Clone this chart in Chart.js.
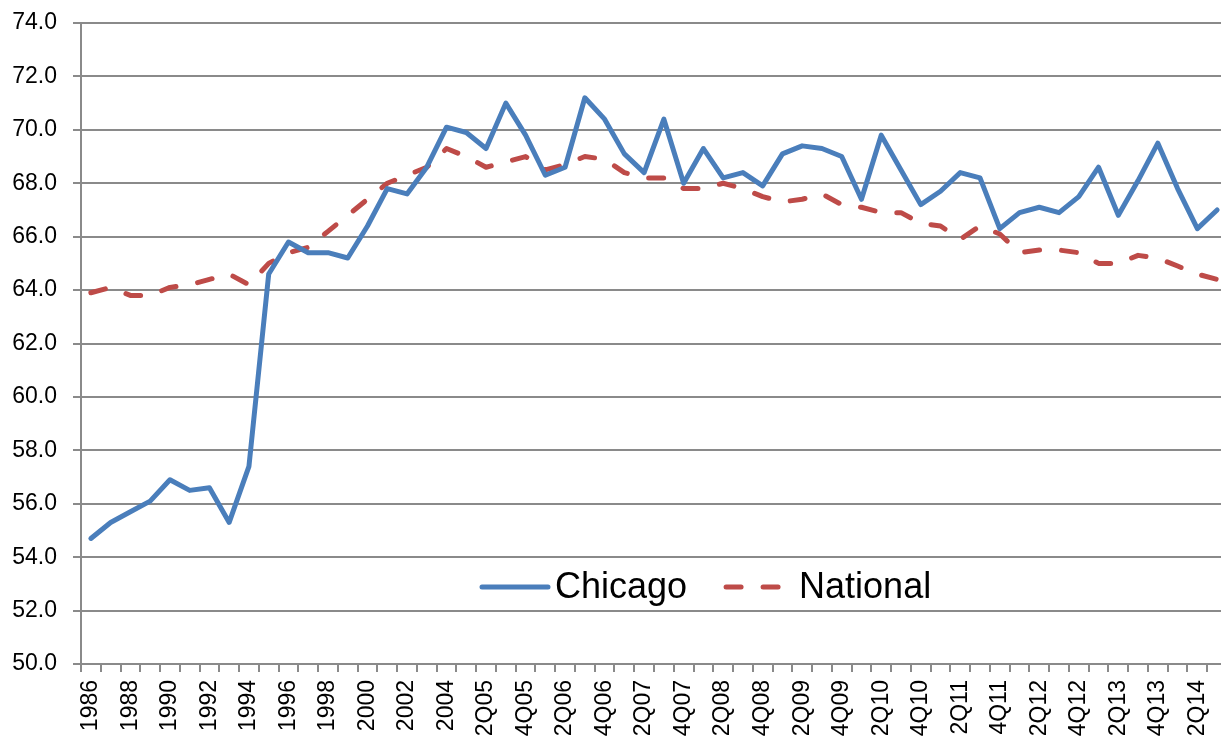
<!DOCTYPE html>
<html>
<head>
<meta charset="utf-8">
<script src="https://cdn.jsdelivr.net/npm/chart.js@4"></script>
<style>
  html, body { margin: 0; padding: 0; background: #fff; overflow: hidden; }
  #wrap { width: 1221px; height: 738px; overflow: hidden; }
</style>
</head>
<body>
<div id="wrap"><canvas id="chart" width="1227" height="738"></canvas></div>
<script>
// categories: yearly to 2004, then quarterly
var years = ["1986", "1987", "1988", "1989", "1990", "1991", "1992", "1993", "1994", "1995",
  "1996", "1997", "1998", "1999", "2000", "2001", "2002", "2003", "2004"];
var quarters = [
  "1Q05", "2Q05", "3Q05", "4Q05", "1Q06", "2Q06", "3Q06", "4Q06",
  "1Q07", "2Q07", "3Q07", "4Q07", "1Q08", "2Q08", "3Q08", "4Q08",
  "1Q09", "2Q09", "3Q09", "4Q09", "1Q10", "2Q10", "3Q10", "4Q10",
  "1Q11", "2Q11", "3Q11", "4Q11", "1Q12", "2Q12", "3Q12", "4Q12",
  "1Q13", "2Q13", "3Q13", "4Q13", "1Q14", "2Q14", "3Q14"];
var labels = years.concat(quarters);

var chicago = [54.7, 55.3, 55.7, 56.1, 56.9, 56.5, 56.6, 55.3, 57.4, 64.6,
  65.8, 65.4, 65.4, 65.2, 66.4, 67.8, 67.6, 68.6, 70.1,
  69.9, 69.3, 71.0, 69.8, 68.3, 68.6, 71.2, 70.4,
  69.1, 68.4, 70.4, 68.0, 69.3, 68.2, 68.4, 67.9,
  69.1, 69.4, 69.3, 69.0, 67.4, 69.8, 68.5, 67.2,
  67.7, 68.4, 68.2, 66.3, 66.9, 67.1, 66.9, 67.5,
  68.6, 66.8, 68.1, 69.5, 67.8, 66.3, 67.0];

var national = [63.9, 64.1, 63.8, 63.8, 64.1, 64.2, 64.4, 64.6, 64.2, 65.0,
  65.4, 65.6, 66.2, 66.8, 67.4, 68.0, 68.3, 68.6, 69.3,
  69.0, 68.6, 68.8, 69.0, 68.5, 68.7, 69.0, 68.9,
  68.4, 68.2, 68.2, 67.8, 67.8, 68.0, 67.8, 67.5,
  67.3, 67.4, 67.6, 67.2, 67.1, 66.9, 66.9, 66.5,
  66.4, 65.9, 66.4, 66.1, 65.4, 65.5, 65.5, 65.4,
  65.0, 65.0, 65.3, 65.2, 64.9, 64.6, 64.4];

var yMin = 50, yMax = 74, yStep = 2;

var blue = "#4A7EBB";
var red = "#BE4B48";
var gridColor = "#8a8a8a";
var dash = [15, 22];
var fontFamily = "'Liberation Sans', Arial, sans-serif";

Chart.defaults.font.family = fontFamily;
Chart.defaults.color = "#000";

/**
 * Legend drawn inside the plot area, like the original.
 */
var insideLegend = {
  id: "insideLegend",
  afterDraw: function (chart) {
    var ctx = chart.ctx, area = chart.chartArea;
    var y = area.bottom - 77;
    var x = area.left + 399;
    var items = [
      { text: "Chicago", color: blue, dash: [] },
      { text: "National", color: red, dash: dash }
    ];
    ctx.save();
    ctx.font = "36px " + fontFamily;
    ctx.textBaseline = "middle";
    items.forEach(function (it) {
      ctx.strokeStyle = it.color;
      ctx.lineWidth = 5;
      ctx.lineCap = "round";
      ctx.setLineDash(it.dash);
      ctx.beginPath();
      ctx.moveTo(x + 2, y);
      ctx.lineTo(x + 68, y);
      ctx.stroke();
      ctx.setLineDash([]);
      ctx.fillStyle = "#000";
      ctx.fillText(it.text, x + 75, y + 1);
      x += 75 + ctx.measureText(it.text).width + 37;
    });
    ctx.restore();
  }
};

var ctx = document.getElementById("chart").getContext("2d");

var myChart = new Chart(ctx, {
  type: "line",
  data: {
    labels: labels,
    datasets: [
      {
        label: "Chicago",
        data: chicago,
        borderColor: blue,
        backgroundColor: blue,
        borderWidth: 5,
        pointRadius: 0,
        tension: 0,
        borderJoinStyle: "round",
        borderCapStyle: "round"
      },
      {
        label: "National",
        data: national,
        borderColor: red,
        backgroundColor: red,
        borderWidth: 5,
        borderDash: dash,
        pointRadius: 0,
        tension: 0,
        borderJoinStyle: "round",
        borderCapStyle: "round"
      }
    ]
  },
  options: {
    responsive: false,
    animation: false,
    devicePixelRatio: 1,
    layout: { padding: { left: 0, top: 23, right: 0, bottom: 0 } },
    plugins: {
      legend: { display: false },
      tooltip: { enabled: false }
    },
    scales: {
      x: {
        offset: true,
        grid: {
          drawOnChartArea: false,
          offset: true,
          color: gridColor,
          lineWidth: 2,
          tickLength: 8
        },
        border: { color: gridColor, width: 2 },
        ticks: {
          autoSkip: false,
          minRotation: 90,
          maxRotation: 90,
          padding: 8,
          font: { size: 23 },
          callback: function (v, i) { return i % 2 === 0 ? labels[i] : ""; }
        },
        afterFit: function (scale) {
          scale.height = 74;
          scale.paddingLeft = 0;
          scale.paddingRight = 0;
        }
      },
      y: {
        min: yMin,
        max: yMax,
        grid: { color: gridColor, lineWidth: 2, tickLength: 8 },
        border: { color: gridColor, width: 2 },
        ticks: {
          stepSize: yStep,
          padding: 16,
          font: { size: 23 },
          callback: function (v) { return v.toFixed(1); }
        },
        afterFit: function (scale) {
          scale.width = 81;
          scale.paddingTop = 0;
          scale.paddingBottom = 0;
        }
      }
    }
  },
  plugins: [insideLegend]
});
</script>
</body>
</html>
